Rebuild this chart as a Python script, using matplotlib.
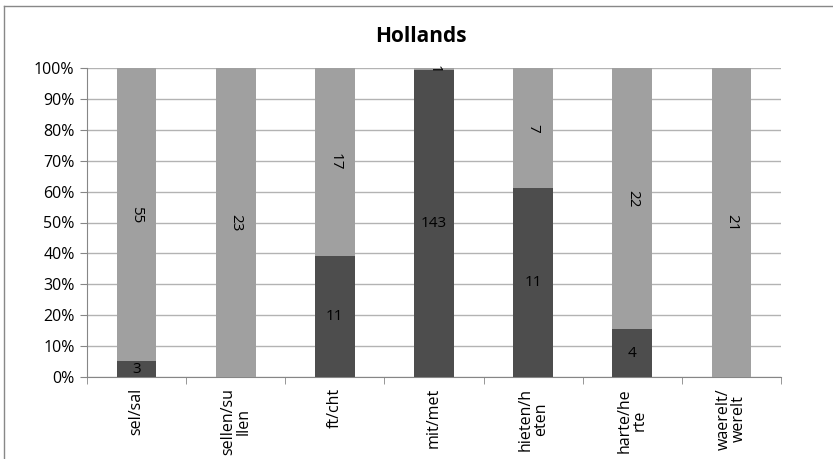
import numpy as np
import matplotlib
matplotlib.use("Agg")
import matplotlib.pyplot as plt
from matplotlib.lines import Line2D

plt.rcParams["font.family"] = ["Open Sans", "DejaVu Sans"]

categories = ["sel/sal", "sellen/su\nllen", "ft/cht", "mit/met",
              "hieten/h\neten", "harte/he\nrte", "waerelt/\nwerelt"]
dark_counts = [3, 0, 11, 143, 11, 4, 0]
light_counts = [55, 23, 17, 1, 7, 22, 21]

DARK = "#4d4d4d"
LIGHT = "#a0a0a0"

dark = np.array(dark_counts, dtype=float)
light = np.array(light_counts, dtype=float)
total = dark + light
dark_pct = dark / total * 100
light_pct = light / total * 100

fig = plt.figure(figsize=(8.33, 4.59), dpi=100)
ax = fig.add_axes([87 / 833, 1 - 377 / 459, 694 / 833, 309 / 459])

x = np.arange(len(categories))
width = 0.4
ax.bar(x, dark_pct, width, color=DARK, zorder=3)
ax.bar(x, light_pct, width, bottom=dark_pct, color=LIGHT, zorder=3)

# data labels: dark series horizontal, light series rotated
for i in range(len(categories)):
    if dark[i] > 0:
        ax.text(x[i], dark_pct[i] / 2, str(dark_counts[i]), ha="center", va="center",
                fontsize=11, color="black", zorder=4)
    if light[i] > 0:
        ax.text(x[i], dark_pct[i] + light_pct[i] / 2, str(light_counts[i]), ha="center",
                va="center", rotation=270, fontsize=11, color="black", zorder=4)

ax.set_xlim(-0.5, len(categories) - 0.5)
ax.set_ylim(0, 100)
ax.set_yticks(np.arange(0, 101, 10))
ax.set_yticklabels([f"{v}%" for v in range(0, 101, 10)], fontsize=11.5)
ax.set_xticks(x)
ax.set_xticklabels(categories, rotation=90, fontsize=11.5, va="top", ha="center",
                   linespacing=0.95)
ax.tick_params(axis="x", length=0, pad=8)
ax.set_xticks(np.arange(-0.5, len(categories)), minor=True)
ax.tick_params(axis="x", which="minor", length=5, color="#868686")
ax.tick_params(axis="y", length=5, color="#868686", pad=4)
ax.grid(axis="y", color="#b3b3b3", lw=1, zorder=0)
for side in ["top", "right"]:
    ax.spines[side].set_visible(False)
ax.spines["left"].set_color("#868686")
ax.spines["bottom"].set_color("#868686")

fig.text(421 / 833, 1 - 37 / 459, "Hollands", ha="center", va="center",
         fontsize=15, fontweight="bold")

# chart frame (top and left edges visible)
fig.add_artist(Line2D([4 / 833, 1], [1 - 6 / 459, 1 - 6 / 459], color="#888888", lw=1))
fig.add_artist(Line2D([4 / 833, 4 / 833], [0, 1 - 6 / 459], color="#888888", lw=1))

fig.savefig("out.png", dpi=100)
